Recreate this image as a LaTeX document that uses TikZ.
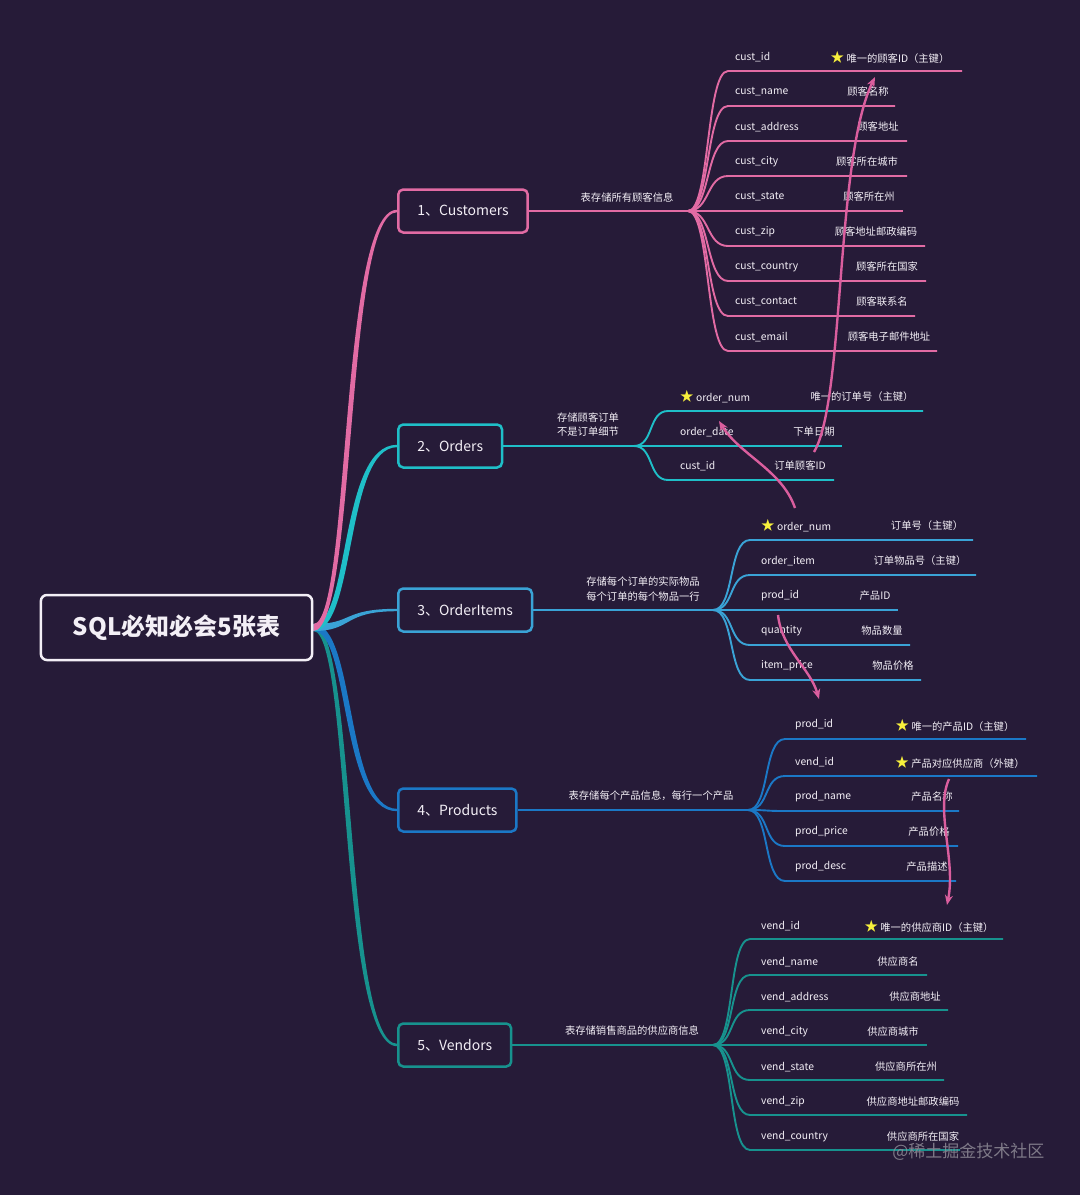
\documentclass[tikz,border=0pt]{standalone}
\usepackage{fontspec}
\setmainfont{Noto Sans CJK SC}
\usepackage{tikz}
\usetikzlibrary{arrows,arrows.meta,shapes}
\pgfdeclarelayer{background}
\pgfsetlayers{background,main}
\definecolor{bgdark}{HTML}{261B38}
\definecolor{pinkC}{HTML}{E26BA4}
\definecolor{cyanO}{HTML}{1FBFC8}
\definecolor{blueI}{HTML}{3AA3D6}
\definecolor{blueP}{HTML}{1B78C6}
\definecolor{tealV}{HTML}{17928E}
\definecolor{linkpink}{HTML}{DA5E9E}
\definecolor{starfill}{HTML}{F8F03C}
\definecolor{txt}{HTML}{F3EFF6}
\definecolor{wmgray}{HTML}{8E8A96}
\newcommand{\keystar}{\textcolor{starfill}{\fontsize{13.5}{13}\selectfont ★}\ }
\tikzstyle{rootbox}=[draw=txt,line width=2.5pt,rounded corners=6pt,fill=bgdark,text=txt,minimum height=65pt,inner xsep=32pt,font=\fontsize{24}{26}\selectfont\bfseries]
\tikzstyle{tablebox}=[line width=2.5pt,rounded corners=5pt,fill=bgdark,text=txt,minimum height=43pt,inner xsep=19pt,font=\fontsize{14}{16}\selectfont]
\tikzstyle{fieldtext}=[text=txt,font=\fontsize{10.3}{14}\selectfont,inner sep=0pt]
\tikzstyle{twig}=[draw,line width=1.9pt]
\tikzstyle{fk}=[draw=linkpink,line width=2.4pt,-{Stealth[length=10pt,width=8pt]}]

\begin{document}
\begin{tikzpicture}[x=1pt,y=-1pt]
    \useasboundingbox (0,0) rectangle (1080,1195);
    % First the root and the five tables
    \node[rootbox] (root) at (176.5,627.5) {SQL必知必会5张表};
    \foreach \y/\name/\col/\label in {211/cust/pinkC/1、Customers, 446/ord/cyanO/2、Orders, 610/item/blueI/3、OrderItems, 810/prod/blueP/4、Products, 1045/vend/tealV/5、Vendors}
        \node[tablebox,draw=\col,anchor=west] (\name) at (397,\y) {\label};
    % Hubs where the fields fan out
    \coordinate (cust-hub) at (688,211);
    \coordinate (ord-hub) at (634,446);
    \coordinate (item-hub) at (713,610);
    \coordinate (prod-hub) at (748,810);
    \coordinate (vend-hub) at (713,1045);
    \begin{pgfonlayer}{background}
        \fill[bgdark] (0,0) rectangle (1080,1195);
        % Connect root with tables (tapered strands)
        \foreach \name/\col/\d in {vend/tealV/-3, prod/blueP/-3, item/blueI/0, ord/cyanO/3, cust/pinkC/3}
            \fill[\col] ([yshift=3.5pt]root.east) .. controls +(40-\d,0) and +(-55-\d,0) .. ([yshift=1.2pt]\name.west)
                -- ([yshift=-1.2pt]\name.west) .. controls +(-55+\d,0) and +(40+\d,0) .. ([yshift=-3.5pt]root.east) -- cycle;
        \foreach \name/\col in {cust/pinkC, ord/cyanO, item/blueI, prod/blueP, vend/tealV}
            \path[twig,draw=\col] (\name.east) -- (\name-hub);
    \end{pgfonlayer}
    % Notes on the table lines
    \node[fieldtext] (cust-note) at (627,198) {表存储所有顾客信息};
    \node[fieldtext,align=center] (ord-note) at (588,425) {存储顾客订单\\不是订单细节};
    \node[fieldtext,align=center] (item-note) at (643,589.5) {存储每个订单的实际物品\\[1pt]每个订单的每个物品一行};
    \node[fieldtext] (prod-note) at (651,796) {表存储每个产品信息，每行一个产品};
    \node[fieldtext] (vend-note) at (632,1031) {表存储销售商品的供应商信息};
    % Customers fields
    \foreach \i/\y/\ex/\fld/\dx/\desc in {1/71/962/cust\_id/890/{\keystar 唯一的顾客ID（主键）}, 2/106/895/cust\_name/868/顾客名称, 3/141/907/cust\_address/878/顾客地址, 4/176/907/cust\_city/867/顾客所在城市, 5/211/903/cust\_state/869/顾客所在州, 6/246/925/cust\_zip/876/顾客地址邮政编码, 7/281/926/cust\_country/887/顾客所在国家, 8/316/915/cust\_contact/882/顾客联系名, 9/351/937/cust\_email/889/顾客电子邮件地址}
    {
        \coordinate (cust-s\i) at (728,\y);
        \coordinate (cust-e\i) at (\ex,\y);
        \path[twig,draw=pinkC] (cust-hub) .. controls +(22,0) and +(-22,0) .. (cust-s\i) -- (cust-e\i);
        \node[fieldtext,anchor=west] (cust-f\i) at (735,\y-14) {\fld};
        \node[fieldtext] (cust-d\i) at (\dx,\y-14) {\desc};
    }
    % Orders fields
    \foreach \i/\y/\ex/\fld/\dx/\desc in {1/411/923/{\keystar order\_num}/862/唯一的订单号（主键）, 2/446/842/order\_date/814/下单日期, 3/480/834/cust\_id/800/订单顾客ID}
    {
        \coordinate (ord-s\i) at (668,\y);
        \coordinate (ord-e\i) at (\ex,\y);
        \path[twig,draw=cyanO] (ord-hub) .. controls +(20,0) and +(-20,0) .. (ord-s\i) -- (ord-e\i);
        \node[fieldtext,anchor=west] (ord-f\i) at (680,\y-14) {\fld};
        \node[fieldtext] (ord-d\i) at (\dx,\y-14) {\desc};
    }
    % OrderItems fields
    \foreach \i/\y/\ex/\fld/\dx/\desc in {1/540/973/{\keystar order\_num}/927/订单号（主键）, 2/575/976/order\_item/920/订单物品号（主键）, 3/610/898/prod\_id/875/产品ID, 4/645/910/quantity/882/物品数量, 5/680/921/item\_price/893/物品价格}
    {
        \coordinate (item-s\i) at (750,\y);
        \coordinate (item-e\i) at (\ex,\y);
        \path[twig,draw=blueI] (item-hub) .. controls +(22,0) and +(-22,0) .. (item-s\i) -- (item-e\i);
        \node[fieldtext,anchor=west] (item-f\i) at (761,\y-14) {\fld};
        \node[fieldtext] (item-d\i) at (\dx,\y-14) {\desc};
    }
    % Products fields
    \foreach \i/\y/\ex/\fld/\dx/\desc in {1/739/1026/prod\_id/955/{\keystar 唯一的产品ID（主键）}, 2/776/1037/vend\_id/960/{\keystar 产品对应供应商（外键）}, 3/811/959/prod\_name/932/产品名称, 4/846/958/prod\_price/929/产品价格, 5/881/956/prod\_desc/927/产品描述}
    {
        \coordinate (prod-s\i) at (785,\y);
        \coordinate (prod-e\i) at (\ex,\y);
        \path[twig,draw=blueP] (prod-hub) .. controls +(22,0) and +(-22,0) .. (prod-s\i) -- (prod-e\i);
        \node[fieldtext,anchor=west] (prod-f\i) at (795,\y-14) {\fld};
        \node[fieldtext] (prod-d\i) at (\dx,\y-14) {\desc};
    }
    % Vendors fields
    \foreach \i/\y/\ex/\fld/\dx/\desc in {1/939/1003/vend\_id/929/{\keystar 唯一的供应商ID（主键）}, 2/975/927/vend\_name/898/供应商名, 3/1010/948/vend\_address/915/供应商地址, 4/1045/927/vend\_city/893/供应商城市, 5/1080/944/vend\_state/906/供应商所在州, 6/1115/967/vend\_zip/913/供应商地址邮政编码, 7/1150/960/vend\_country/923/供应商所在国家}
    {
        \coordinate (vend-s\i) at (750,\y);
        \coordinate (vend-e\i) at (\ex,\y);
        \path[twig,draw=tealV] (vend-hub) .. controls +(22,0) and +(-22,0) .. (vend-s\i) -- (vend-e\i);
        \node[fieldtext,anchor=west] (vend-f\i) at (761,\y-13) {\fld};
        \node[fieldtext] (vend-d\i) at (\dx,\y-13) {\desc};
    }
    % Key links between tables
    \coordinate (lk1-a) at (814,452); \coordinate (lk1-b) at (875,77);
    \coordinate (lk2-a) at (795,508); \coordinate (lk2-b) at (719,421);
    \coordinate (lk3-a) at (778,615); \coordinate (lk3-b) at (819,699);
    \coordinate (lk4-a) at (949,779); \coordinate (lk4-b) at (947,905);
    \draw[fk] (lk1-a) .. controls (845,400) and (835,160) .. (lk1-b);
    \draw[fk] (lk2-a) .. controls (782,470) and (740,455) .. (lk2-b);
    \draw[fk] (lk3-a) .. controls (782,650) and (810,668) .. (lk3-b);
    \draw[fk] (lk4-a) .. controls (935,810) and (956,860) .. (lk4-b);
    % Watermark
    \node[text=wmgray,opacity=0.85,font=\fontsize{17}{20}\selectfont,anchor=east] (mark) at (1048,1152) {@稀土掘金技术社区};
\end{tikzpicture}
\end{document}
